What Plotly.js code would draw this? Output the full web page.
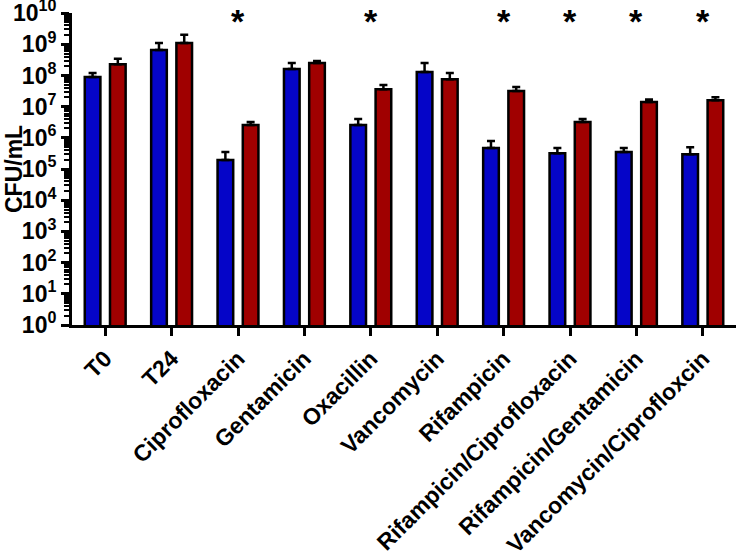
<!DOCTYPE html>
<html>
<head>
<meta charset="utf-8">
<script src="https://cdn.plot.ly/plotly-3.0.1.min.js"></script>
<style>html,body{margin:0;padding:0;background:#fff;}#chart{width:739px;height:554px;}</style>
</head>
<body>
<div id="chart"></div>
<script>
const categories = ["T0","T24","Ciprofloxacin","Gentamicin","Oxacillin","Vancomycin","Rifampicin","Rifampicin/Ciprofloxacin","Rifampicin/Gentamicin","Vancomycin/Ciprofloxcin"];
const blueMean = [8.9e7, 6.5e8, 1.95e5, 1.6e8, 2.6e6, 1.3e8, 4.7e5, 3.2e5, 3.5e5, 3.0e5];
const blueTop  = [1.2e8, 1.1e9, 3.5e5, 2.5e8, 4.0e6, 2.5e8, 7.9e5, 4.7e5, 4.7e5, 5.0e5];
const redMean  = [2.3e8, 1.1e9, 2.6e6, 2.5e8, 3.6e7, 7.6e7, 3.2e7, 3.2e6, 1.4e7, 1.6e7];
const redTop   = [3.4e8, 2.0e9, 3.2e6, 2.9e8, 4.9e7, 1.2e8, 4.3e7, 4.0e6, 1.7e7, 2.0e7];
const starred  = ["Ciprofloxacin","Oxacillin","Rifampicin","Rifampicin/Ciprofloxacin","Rifampicin/Gentamicin","Vancomycin/Ciprofloxcin"];
const yTickVals = [1,10,100,1e3,1e4,1e5,1e6,1e7,1e8,1e9,1e10];
const yTickText = ["10<sup>0</sup>","10<sup>1</sup>","10<sup>2</sup>","10<sup>3</sup>","10<sup>4</sup>","10<sup>5</sup>","10<sup>6</sup>","10<sup>7</sup>","10<sup>8</sup>","10<sup>9</sup>","10<sup>10</sup>"];
const yTitle = "CFU/mL";

const F = "Arial, 'Liberation Sans', sans-serif";
function bar(mean, top, color){
  return {
    type: "bar", x: categories, y: mean,
    marker: {color: color, line: {color: "#000", width: 2.5}},
    error_y: {type: "data", symmetric: false, array: top.map((t,i)=>t-mean[i]), arrayminus: mean.map(()=>0),
              color: "#000", thickness: 2.5, width: 4},
    showlegend: false, hoverinfo: "skip"
  };
}
const data = [bar(blueMean, blueTop, "#0505c8"), bar(redMean, redTop, "#a00000")];
const annotations = starred.map(c => ({
  x: c, y: 9.75, xref: "x", yref: "y", text: "*", showarrow: false,
  yanchor: "middle", font: {family: F, size: 34, weight: "bold", color: "#000"}
}));
annotations.push({
  x: -58/664, y: 0.5, xref: "paper", yref: "paper", text: yTitle, textangle: -90,
  showarrow: false, xanchor: "center", yanchor: "middle",
  font: {family: F, size: 23, weight: "bold", color: "#000"}
});
const layout = {
  width: 739, height: 554,
  margin: {l: 72, r: 3, t: 13, b: 229},
  paper_bgcolor: "#fff", plot_bgcolor: "#fff",
  barmode: "group", bargap: 0.24, bargroupgap: 0.38,
  font: {family: F, color: "#000"},
  xaxis: {
    type: "category", range: [-0.5, 9.5],
    showline: true, linecolor: "#000", linewidth: 3,
    ticks: "outside", ticklen: 8, tickwidth: 3, tickcolor: "#000",
    tickangle: -45, tickfont: {family: F, size: 23, weight: "bold"},
    showgrid: false, zeroline: false
  },
  yaxis: {
    type: "log", range: [0, 10.002],
    showline: true, linecolor: "#000", linewidth: 3,
    ticks: "outside", ticklen: 8, tickwidth: 3, tickcolor: "#000",
    tickvals: yTickVals, ticktext: yTickText, ticklabeloverflow: "allow",
    tickfont: {family: F, size: 23, weight: "bold"},
    minor: {dtick: "D1", ticks: "outside", ticklen: 5, tickwidth: 2, tickcolor: "#000", showgrid: false},
    showgrid: false, zeroline: false
  },
  annotations: annotations
};
Plotly.newPlot("chart", data, layout, {displayModeBar: false, staticPlot: true});
</script>
</body>
</html>
